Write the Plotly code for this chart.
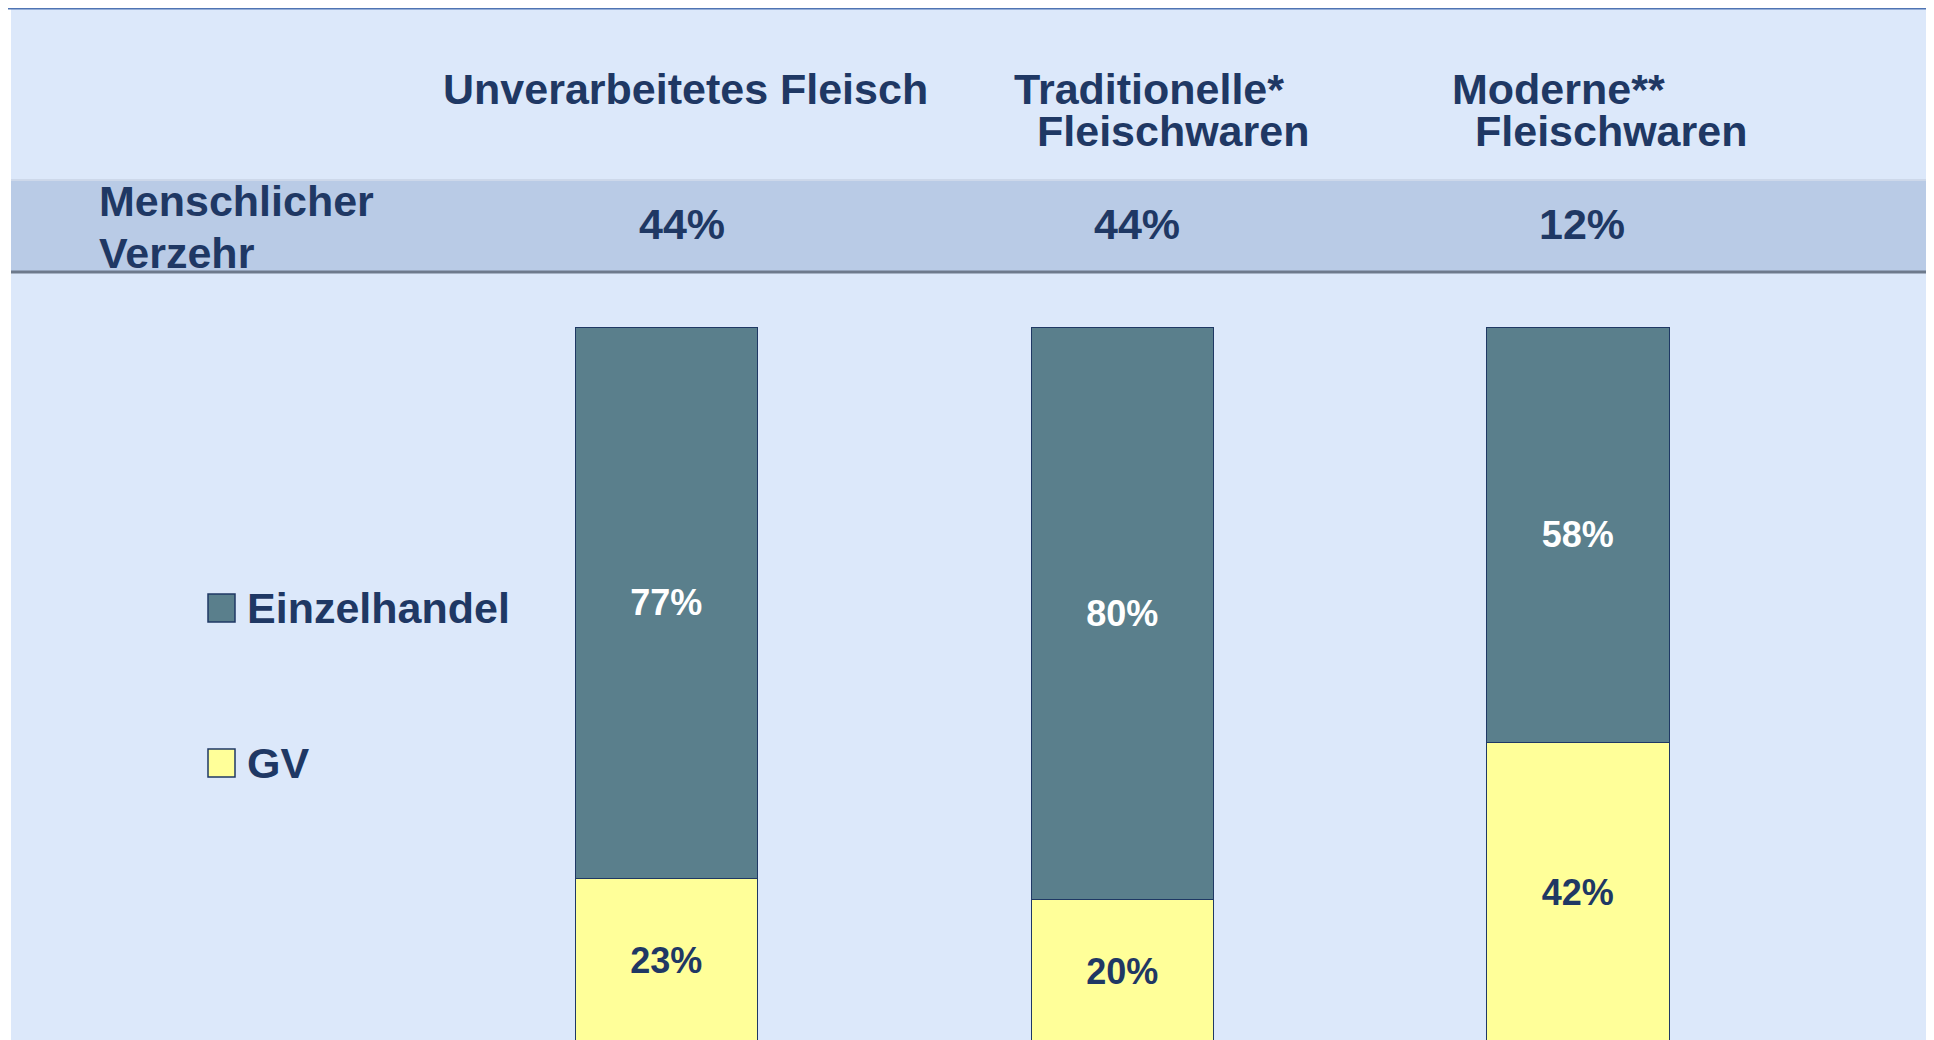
import plotly.graph_objects as go

# data
categories = ["Unverarbeitetes Fleisch", "Traditionelle* Fleischwaren", "Moderne** Fleischwaren"]
header_lines = [["Unverarbeitetes Fleisch"], ["Traditionelle*", "Fleischwaren"], ["Moderne**", "Fleischwaren"]]
verzehr = [44, 44, 12]          # Menschlicher Verzehr, %
gv = [23, 20, 42]               # GV, %
einzelhandel = [77, 80, 58]     # Einzelhandel, %

W, H = 1934, 1040
OFF = 8  # page margin of the html body
NAVY = "#1f3864"
TEAL = "#5a7f8c"
YELLOW = "#ffff99"
PANEL = "#dce8fa"
FONT = "Liberation Sans, Arial, sans-serif"


def py(px):
    # screen row -> paper y
    return 1 - (px - OFF) / H


def px_x(px):
    return (px - OFF) / W


fig = go.Figure()

fig.add_trace(go.Bar(
    x=categories, y=gv, name="GV",
    marker=dict(color=YELLOW, line=dict(color=NAVY, width=1.5)),
    text=[f"{v}%" for v in gv], textposition="inside", insidetextanchor="middle",
    textfont=dict(color=NAVY, size=36, family=FONT, weight="bold"),
    width=0.4, showlegend=False,
))
fig.add_trace(go.Bar(
    x=categories, y=einzelhandel, name="Einzelhandel",
    marker=dict(color=TEAL, line=dict(color=NAVY, width=1.5)),
    text=[f"{v}%" for v in einzelhandel], textposition="inside", insidetextanchor="middle",
    textfont=dict(color="white", size=36, family=FONT, weight="bold"),
    width=0.4, showlegend=False,
))

shapes = [
    # thin white strip left of the panel
    dict(type="rect", xref="paper", yref="paper", x0=0, x1=px_x(11), y0=0, y1=1,
         fillcolor="white", line_width=0, layer="below"),
    # top rule
    dict(type="line", xref="paper", yref="paper", x0=0, x1=1.02, y0=py(8.5), y1=py(8.5),
         line=dict(color="#4f74b3", width=2), layer="below"),
    # band
    dict(type="rect", xref="paper", yref="paper", x0=px_x(11), x1=1.02, y0=py(272), y1=py(180),
         fillcolor="#b9cbe6", line_width=0, layer="below"),
    dict(type="line", xref="paper", yref="paper", x0=px_x(11), x1=1.02, y0=py(180), y1=py(180),
         line=dict(color="#cdd8ea", width=2), layer="below"),
    dict(type="line", xref="paper", yref="paper", x0=px_x(11), x1=1.02, y0=py(272), y1=py(272),
         line=dict(color="#6e7a8c", width=3), layer="below"),
]

annotations = []
big = dict(family=FONT, size=43, color=NAVY, weight="bold")

# column headers
header_pos = [[(19, 89, "center")], [(-111, 89, "left"), (-88, 131, "left")],
              [(-128, 89, "left"), (-105, 131, "left")]]
for cat, lines, pos in zip(categories, header_lines, header_pos):
    for line, (dx, y, anchor) in zip(lines, pos):
        annotations.append(dict(x=cat, xref="x", y=py(y), yref="paper", text=line,
                                xanchor=anchor, yanchor="middle", xshift=dx,
                                showarrow=False, font=big))

# band row
annotations.append(dict(x=px_x(97), xref="paper", y=py(201), yref="paper", text="Menschlicher",
                        xanchor="left", yanchor="middle", showarrow=False, font=big))
annotations.append(dict(x=px_x(97), xref="paper", y=py(253), yref="paper", text="Verzehr",
                        xanchor="left", yanchor="middle", showarrow=False, font=big))
share_shift = [15, 14, 4]
for cat, v, dx in zip(categories, verzehr, share_shift):
    annotations.append(dict(x=cat, xref="x", y=py(224), yref="paper", text=f"{v}%",
                            xanchor="center", yanchor="middle", xshift=dx,
                            showarrow=False, font=big))

# legend drawn by hand (big squares)
legend_items = [("Einzelhandel", TEAL, 608), ("GV", YELLOW, 763)]
for name, col, yc in legend_items:
    shapes.append(dict(type="rect", xref="paper", yref="paper",
                       x0=px_x(208), x1=px_x(235), y0=py(yc + 14), y1=py(yc - 14),
                       fillcolor=col, line=dict(color=NAVY, width=1.5)))
    annotations.append(dict(x=px_x(245), xref="paper", y=py(yc), yref="paper", text=name,
                            xanchor="left", yanchor="middle", showarrow=False, font=big))

# axis ranges so that bar centres / 0-100 % land where the reference has them
fig.update_layout(
    width=W, height=H,
    margin=dict(l=0, r=0, t=0, b=0),
    paper_bgcolor=PANEL, plot_bgcolor="rgba(0,0,0,0)",
    barmode="stack", bargap=0,
    shapes=shapes, annotations=annotations,
    xaxis=dict(visible=False, range=[-1.4461, 2.798], fixedrange=True),
    yaxis=dict(visible=False, range=[-0.61, 144.63], fixedrange=True),
    uniformtext=dict(minsize=10, mode="show"),
)

fig.write_html("out.html")
